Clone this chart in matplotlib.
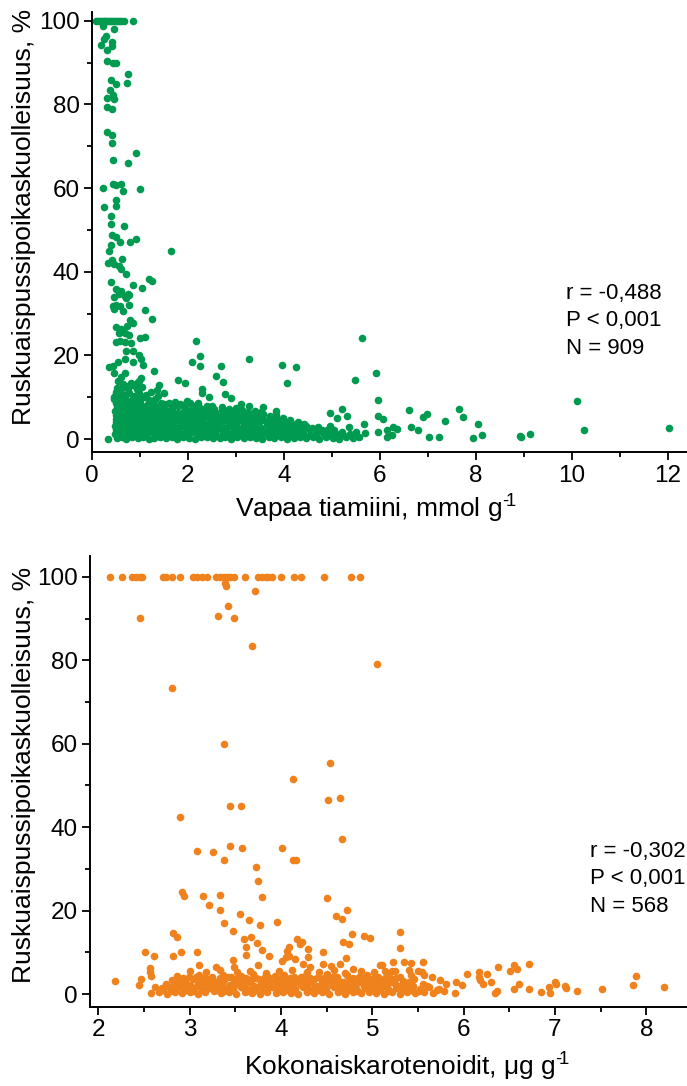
import matplotlib
matplotlib.use("Agg")
import matplotlib.pyplot as plt
from matplotlib.ticker import MultipleLocator

plt.rcParams['font.family'] = ['Liberation Sans', 'DejaVu Sans']
plt.rcParams['mathtext.fontset'] = 'custom'
plt.rcParams['mathtext.rm'] = 'Liberation Sans'
plt.rcParams['mathtext.default'] = 'regular'

GREEN = '#009B50'
ORANGE = '#F0821E'

# ---------------- Top panel: free thiamine vs. mortality ----------------
thiamine_row100_x = [0.08, 0.12, 0.16, 0.2, 0.24, 0.28, 0.32, 0.36, 0.4, 0.44,
                     0.48, 0.52, 0.56, 0.6, 0.67, 0.86]
thiamine_row100_y = [100] * len(thiamine_row100_x)

thiamine_high = [
    (0.22, 98.7), (0.46, 98.0), (0.29, 96.4), (0.26, 95.6), (0.41, 94.9), (0.41, 94.0),
    (0.18, 94.1), (0.31, 92.9), (0.32, 90.5), (0.44, 90.0), (0.5, 90.0), (0.75, 87.2),
    (0.72, 85.1), (0.4, 85.8), (0.49, 84.9), (0.375, 83.5), (0.44, 82.2), (0.32, 81.6),
    (0.46, 81.2), (0.32, 79.4), (0.41, 78.9), (0.32, 73.4), (0.41, 72.7), (0.41, 70.7),
    (0.92, 68.3), (0.44, 66.6), (0.75, 66.0), (0.22, 60.0), (0.43, 61.0), (0.51, 60.8),
    (0.61, 61.0), (0.64, 59.2), (1.0, 59.8), (0.5, 57.2), (0.24, 55.4), (0.5, 55.7),
    (0.39, 53.3), (0.4, 51.4), (0.67, 51.0), (0.42, 48.7), (0.49, 48.4), (0.58, 47.0),
    (0.79, 47.0), (0.92, 47.8), (0.4, 46.5), (0.36, 44.9), (1.64, 45.0), (0.33, 42.2),
    (0.42, 42.8), (0.46, 41.9), (0.57, 41.4), (0.63, 43.0), (0.6, 40.7), (0.71, 39.5),
    (0.4, 37.6), (1.18, 38.2), (1.24, 37.9), (0.85, 36.9), (1.04, 36.0), (0.5, 35.8),
    (0.61, 35.5), (0.57, 34.7), (0.46, 34.0), (0.68, 34.2), (0.74, 34.7), (0.78, 34.5),
    (0.71, 33.7), (0.43, 31.8), (0.51, 32.1), (0.46, 31.2), (0.58, 31.7), (0.64, 30.5),
    (0.78, 32.0), (1.11, 30.9), (1.24, 28.6), (0.79, 28.5), (0.85, 27.8), (0.51, 26.9),
    (0.61, 26.2), (0.72, 27.0), (0.56, 25.3), (0.68, 25.4), (0.78, 24.8), (1.01, 24.1),
    (1.11, 24.3), (0.49, 23.3), (0.58, 23.5), (0.68, 23.2), (0.82, 22.9), (2.17, 23.5),
    (0.71, 21.1), (0.86, 21.0), (0.97, 20.0), (1.03, 19.1), (2.26, 19.9), (0.54, 18.4),
    (0.69, 19.1), (0.86, 18.4), (1.07, 17.8), (2.08, 18.3), (2.26, 17.5), (0.36, 17.2),
    (0.43, 17.5), (0.46, 15.9), (1.29, 16.2), (0.68, 15.9), (0.6, 14.9), (0.54, 13.8),
    (0.65, 13.2), (2.58, 15.1), (1.03, 14.6), (0.98, 13.8), (0.93, 13.3), (0.81, 13.5),
    (0.86, 12.8), (1.04, 12.5), (1.79, 14.1), (1.93, 13.5), (1.39, 13.0), (1.35, 11.7),
    (1.51, 10.9), (0.49, 11.2), (0.61, 11.9), (0.74, 11.9), (0.94, 11.9), (2.29, 12.0),
    (2.29, 11.1), (2.43, 10.0), (2.68, 17.5), (2.72, 13.6), (2.77, 10.8), (2.89, 9.8),
    (5.62, 24.2), (3.28, 19.1), (3.95, 17.7), (4.25, 17.2), (4.06, 13.3), (5.91, 15.7),
    (5.49, 14.0),
]

thiamine_mid = [
    (0.46, 10.0), (0.56, 9.3), (0.68, 9.9), (0.82, 9.2), (0.93, 9.8), (1.0, 9.4),
    (1.08, 10.1), (1.18, 9.3), (1.24, 8.9), (1.31, 9.6), (1.43, 8.7), (1.61, 8.5),
    (1.74, 8.9), (1.83, 8.4), (1.97, 9.2), (2.04, 8.5), (2.21, 8.5), (2.35, 7.2),
    (3.1, 8.4), (3.28, 7.9), (3.57, 7.6), (3.83, 6.6), (3.53, 6.5),
    (0.48, 10.3), (0.55, 11.0), (0.66, 10.6), (0.77, 10.9), (0.88, 10.4), (0.98, 11.1),
    (1.12, 10.5), (1.22, 11.2), (0.52, 12.3), (0.7, 12.6), (0.95, 10.8), (1.38, 10.2),
    (0.45, 9.5), (0.59, 9.7), (0.72, 9.2), (0.85, 9.9),
]

thiamine_tail = [
    (5.97, 9.3), (4.97, 6.3), (5.2, 7.2), (5.1, 5.1), (5.32, 5.6), (6.61, 6.9),
    (6.89, 5.3), (6.98, 6.0), (7.64, 7.3), (7.73, 5.3), (5.96, 5.6), (6.06, 4.7),
    (5.67, 3.7), (7.36, 4.3), (6.64, 2.9), (6.8, 2.1), (7.03, 0.4), (7.24, 0.5),
    (6.28, 2.9), (6.35, 2.5), (8.04, 3.5), (8.12, 0.9), (7.94, 0.3), (5.97, 1.7),
    (6.14, 0.5), (6.25, 1.0), (6.14, 2.2), (5.57, 0.4), (5.68, 1.5), (4.72, 2.9),
    (4.89, 2.2), (5.36, 2.9), (5.51, 1.7), (10.1, 9.1), (10.26, 2.2), (12.03, 2.7),
    (8.93, 0.7), (9.13, 1.2), (8.94, 0.4), (0.33, 0.1),
]

thiamine_band = [
    # y ~ 0.3
    (0.52, 0.3), (0.63, 0.6), (0.71, 0.1), (0.84, 0.4), (0.95, 0.2), (1.06, 0.5), (1.19, 0.0),
    (1.3, 0.3), (1.41, 0.6), (1.55, 0.2), (1.66, 0.4), (1.78, 0.1), (1.9, 0.5), (2.03, 0.3),
    (2.15, 0.0), (2.27, 0.4), (2.4, 0.6), (2.52, 0.2), (2.66, 0.3), (2.78, 0.5), (2.9, 0.1),
    (3.03, 0.4), (3.17, 0.2), (3.3, 0.6), (3.42, 0.3), (3.55, 0.0), (3.68, 0.5), (3.8, 0.2),
    (3.93, 0.4), (4.07, 0.1), (4.2, 0.3), (4.33, 0.6), (4.47, 0.2), (4.6, 0.5), (4.74, 0.0),
    (4.88, 0.4), (5.02, 0.3), (5.15, 0.1), (5.3, 0.5), (5.44, 0.2),
    # y ~ 1.2
    (0.47, 1.3), (0.58, 1.0), (0.69, 1.5), (0.79, 1.1), (0.9, 1.4), (1.01, 0.9), (1.13, 1.3),
    (1.24, 1.6), (1.36, 1.0), (1.48, 1.2), (1.6, 1.5), (1.72, 0.9), (1.84, 1.3), (1.97, 1.1),
    (2.09, 1.6), (2.21, 1.0), (2.33, 1.4), (2.46, 1.2), (2.59, 0.9), (2.72, 1.5), (2.84, 1.1),
    (2.97, 1.3), (3.1, 1.0), (3.23, 1.6), (3.36, 1.2), (3.49, 0.9), (3.62, 1.4), (3.75, 1.1),
    (3.87, 1.5), (4.0, 1.0), (4.13, 1.3), (4.27, 1.1), (4.4, 1.5), (4.54, 0.9), (4.67, 1.2),
    (4.81, 1.4), (4.95, 1.0), (5.09, 1.3), (5.23, 0.9), (5.38, 1.2),
    # y ~ 2.1
    (0.5, 2.2), (0.61, 1.9), (0.73, 2.4), (0.86, 2.0), (0.97, 2.3), (1.09, 1.8), (1.21, 2.2),
    (1.33, 2.5), (1.45, 1.9), (1.58, 2.1), (1.7, 2.4), (1.82, 1.8), (1.95, 2.2), (2.07, 2.0),
    (2.19, 2.5), (2.31, 1.9), (2.44, 2.3), (2.57, 2.0), (2.69, 2.4), (2.82, 1.8), (2.95, 2.2),
    (3.08, 2.5), (3.2, 1.9), (3.33, 2.1), (3.46, 2.4), (3.59, 1.8), (3.72, 2.2), (3.85, 2.0),
    (3.98, 2.4), (4.11, 1.9), (4.24, 2.2), (4.38, 2.0), (4.52, 2.4), (4.66, 1.8), (4.8, 2.1),
    (5.05, 2.2), (5.2, 1.8),
    # y ~ 3.0
    (0.48, 3.1), (0.6, 2.8), (0.7, 3.3), (0.82, 2.9), (0.93, 3.2), (1.04, 2.7), (1.16, 3.1),
    (1.28, 3.4), (1.4, 2.8), (1.52, 3.0), (1.64, 3.3), (1.76, 2.7), (1.88, 3.1), (2.0, 2.9),
    (2.12, 3.4), (2.25, 2.8), (2.38, 3.2), (2.5, 2.9), (2.63, 3.3), (2.76, 2.7), (2.88, 3.1),
    (3.01, 3.4), (3.14, 2.8), (3.27, 3.0), (3.4, 3.3), (3.53, 2.7), (3.66, 3.1), (3.79, 2.9),
    (3.92, 3.3), (4.05, 2.8), (4.18, 3.1), (4.31, 2.9), (4.45, 3.2), (4.58, 2.7), (4.95, 3.0),
    # y ~ 3.9
    (0.51, 4.0), (0.62, 3.7), (0.74, 4.2), (0.87, 3.8), (0.99, 4.1), (1.11, 3.6), (1.23, 4.0),
    (1.35, 4.3), (1.47, 3.7), (1.6, 3.9), (1.73, 4.2), (1.85, 3.6), (1.98, 4.0), (2.1, 3.8),
    (2.23, 4.3), (2.35, 3.7), (2.48, 4.1), (2.61, 3.8), (2.74, 4.2), (2.86, 3.6), (2.99, 4.0),
    (3.12, 4.3), (3.25, 3.7), (3.38, 3.9), (3.51, 4.2), (3.64, 3.6), (3.77, 4.0), (3.9, 3.8),
    (4.03, 4.1), (4.16, 3.7), (4.3, 4.0), (4.42, 3.6),
    # y ~ 4.8
    (0.49, 4.9), (0.6, 4.6), (0.72, 5.1), (0.84, 4.7), (0.95, 5.0), (1.07, 4.5), (1.19, 4.9),
    (1.31, 5.2), (1.43, 4.6), (1.56, 4.8), (1.68, 5.1), (1.8, 4.5), (1.93, 4.9), (2.05, 4.7),
    (2.18, 5.2), (2.3, 4.6), (2.43, 5.0), (2.56, 4.7), (2.69, 5.1), (2.81, 4.5), (2.94, 4.9),
    (3.07, 5.2), (3.2, 4.6), (3.33, 4.8), (3.46, 5.1), (3.59, 4.5), (3.72, 4.9), (3.85, 4.7),
    (3.98, 5.0), (4.12, 4.6),
    # y ~ 5.7
    (0.5, 5.8), (0.63, 5.5), (0.75, 6.0), (0.88, 5.6), (1.0, 5.9), (1.12, 5.4), (1.25, 5.8),
    (1.37, 6.1), (1.5, 5.5), (1.62, 5.7), (1.75, 6.0), (1.87, 5.4), (2.0, 5.8), (2.12, 5.6),
    (2.25, 6.1), (2.38, 5.5), (2.51, 5.9), (2.64, 5.6), (2.77, 6.0), (2.9, 5.4), (3.03, 5.8),
    (3.16, 6.1), (3.3, 5.5), (3.43, 5.7), (3.57, 5.9), (3.7, 5.4), (3.84, 5.7),
    # y ~ 6.6
    (0.47, 6.7), (0.58, 6.4), (0.7, 6.9), (0.82, 6.5), (0.94, 6.8), (1.06, 6.3), (1.18, 6.7),
    (1.3, 7.0), (1.42, 6.4), (1.55, 6.6), (1.67, 6.9), (1.79, 6.3), (1.92, 6.7), (2.04, 6.5),
    (2.17, 7.0), (2.29, 6.4), (2.42, 6.8), (2.56, 6.5), (2.7, 6.9), (2.84, 6.3), (2.98, 6.7),
    (3.12, 7.0), (3.26, 6.4), (3.4, 6.6),
    # y ~ 7.5
    (0.52, 7.6), (0.64, 7.3), (0.77, 7.8), (0.9, 7.4), (1.02, 7.7), (1.15, 7.2), (1.27, 7.6),
    (1.4, 7.9), (1.53, 7.3), (1.66, 7.5), (1.8, 7.8), (1.95, 7.2), (2.1, 7.6), (2.26, 7.4),
    (2.4, 7.8), (2.55, 7.3), (2.7, 7.6), (2.86, 7.2), (3.0, 7.5),
    # y ~ 8.5
    (0.49, 8.6), (0.62, 8.3), (0.75, 8.8), (0.88, 8.4), (1.01, 8.7), (1.14, 8.2), (1.28, 8.6),
    (1.5, 8.4), (1.68, 8.0), (1.9, 8.1), (2.13, 7.9), (2.5, 8.0),
]

# ---------------- Bottom panel: total carotenoids vs. mortality ----------------
carot_row100_x = [2.13, 2.26, 2.37, 2.41, 2.46, 2.48, 2.71, 2.74, 2.8, 2.89, 3.04, 3.08,
                  3.13, 3.19, 3.29, 3.33, 3.37, 3.41, 3.44, 3.48, 3.6, 3.75, 3.79, 3.83,
                  3.86, 3.9, 4.0, 4.14, 4.22, 4.47, 4.77, 4.86]
carot_row100_y = [100] * len(carot_row100_x)

carot_high = [
    (3.39, 98.5), (3.4, 97.8), (3.71, 96.5), (3.42, 93.0), (2.45, 90.2), (3.31, 90.6),
    (3.48, 90.2), (3.68, 83.5), (5.05, 79.0), (2.8, 73.4), (3.38, 59.9), (4.54, 55.4),
    (4.13, 51.5), (3.44, 45.0), (3.56, 45.0), (4.51, 46.5), (4.65, 46.9), (2.89, 42.4),
    (4.67, 37.1), (3.08, 34.4), (3.25, 34.0), (3.44, 35.6), (3.57, 34.9), (3.37, 32.1),
    (4.01, 34.9), (4.13, 32.1), (4.16, 32.1), (3.72, 30.5), (3.75, 27.1), (3.79, 23.3),
    (4.5, 23.1), (2.91, 24.4), (2.94, 23.4), (3.15, 23.5), (3.33, 23.7), (3.21, 21.3),
    (3.33, 20.1), (4.6, 18.7), (4.67, 17.9), (4.72, 20.1), (3.37, 17.0), (3.55, 19.3),
    (3.65, 17.7), (3.77, 16.5), (3.95, 17.3), (3.47, 15.0), (2.82, 14.6), (2.86, 13.6),
    (3.59, 13.1), (3.67, 13.7), (3.74, 12.2), (3.62, 11.3), (3.62, 9.4), (3.79, 10.5),
    (3.87, 9.1), (4.17, 13.1), (4.23, 12.5), (4.21, 12.0), (4.09, 11.3), (4.07, 10.4),
    (4.3, 10.9), (4.29, 8.9), (4.78, 14.3), (4.91, 13.8), (4.97, 13.4), (4.68, 12.4),
    (4.74, 12.0), (4.46, 10.1), (4.71, 8.6), (2.51, 10.1), (2.61, 9.1), (2.82, 9.1),
    (2.9, 10.1), (3.08, 10.1), (5.3, 14.9), (5.3, 11.0),
]

carot_low = [
    (2.18, 3.1), (2.44, 2.1), (2.47, 3.7), (2.56, 6.2), (2.57, 4.3), (2.56, 5.3), (2.62, 1.6),
    (2.57, 0.2), (3.1, 7.0), (3.29, 6.5), (3.47, 8.1), (3.48, 6.4), (3.75, 7.0), (4.01, 8.0),
    (4.05, 8.9), (4.09, 9.1), (4.15, 8.5), (4.24, 7.2), (4.32, 6.4), (4.46, 7.2), (4.55, 6.7),
    (4.64, 7.2), (4.79, 6.1), (5.1, 6.9), (5.23, 7.6), (5.35, 7.7), (5.42, 7.5), (5.55, 7.8),
    (5.08, 7.0), (5.14, 5.6), (5.21, 5.6), (5.4, 5.8), (5.5, 5.6), (5.54, 5.3), (5.57, 4.6),
    (6.04, 4.9), (6.17, 5.3), (6.26, 4.8), (6.38, 6.4), (6.51, 5.6), (6.55, 7.0), (6.58, 6.1),
    (6.71, 7.1), (5.65, 4.1), (5.74, 3.4), (5.81, 2.4), (5.92, 3.0), (5.98, 2.1), (6.18, 3.4),
    (6.17, 4.1), (6.21, 2.4), (6.3, 3.0), (6.36, 0.8), (6.34, 0.2), (6.61, 2.4), (6.55, 1.1),
    (6.72, 1.1), (6.85, 0.5), (6.93, 1.6), (6.95, 0.3), (7.0, 3.0), (7.01, 2.4), (7.11, 1.9),
    (7.12, 1.4), (7.24, 0.8), (7.51, 1.1), (7.85, 2.2), (7.89, 4.3), (8.19, 1.7),
]

carot_band = [
    # y ~ 0.3
    (2.66, 0.4), (2.75, 0.1), (2.84, 0.6), (2.92, 0.2), (3.0, 0.5), (3.09, 0.0), (3.17, 0.4),
    (3.26, 0.7), (3.34, 0.2), (3.43, 0.5), (3.51, 0.1), (3.6, 0.6), (3.68, 0.3), (3.77, 0.0),
    (3.85, 0.5), (3.94, 0.2), (4.02, 0.6), (4.11, 0.3), (4.19, 0.0), (4.28, 0.5), (4.36, 0.2),
    (4.45, 0.6), (4.53, 0.1), (4.62, 0.4), (4.7, 0.0), (4.79, 0.5), (4.87, 0.2), (4.96, 0.6),
    (5.04, 0.3), (5.13, 0.0), (5.21, 0.4), (5.3, 0.1), (5.38, 0.5), (5.47, 0.2), (5.56, 0.6),
    (5.66, 0.3), (5.78, 0.7), (5.9, 0.2),
    # y ~ 0.9
    (2.71, 0.9), (2.8, 0.8), (2.96, 1.0), (3.04, 0.8), (3.13, 0.9), (3.3, 1.0), (3.38, 0.8),
    (3.47, 0.9), (3.64, 0.8), (3.72, 1.0), (3.81, 0.9), (3.98, 0.8), (4.06, 1.0), (4.15, 0.8),
    (4.32, 0.9), (4.4, 1.0), (4.49, 0.8), (4.66, 0.9), (4.74, 1.0), (4.83, 0.8), (5.0, 0.9),
    (5.08, 1.0), (5.17, 0.8), (5.34, 0.9), (5.42, 1.0), (5.51, 0.8), (5.71, 0.9),
    # y ~ 1.3
    (2.7, 1.4), (2.79, 1.1), (2.88, 1.6), (2.96, 1.2), (3.05, 1.5), (3.13, 1.0), (3.22, 1.4),
    (3.3, 1.7), (3.39, 1.1), (3.47, 1.3), (3.56, 1.6), (3.64, 1.0), (3.73, 1.4), (3.81, 1.2),
    (3.9, 1.7), (3.98, 1.1), (4.07, 1.5), (4.15, 1.2), (4.24, 1.6), (4.32, 1.0), (4.41, 1.4),
    (4.49, 1.2), (4.58, 1.7), (4.66, 1.1), (4.75, 1.5), (4.83, 1.0), (4.92, 1.4), (5.0, 1.2),
    (5.09, 1.6), (5.17, 1.1), (5.26, 1.5), (5.34, 1.0), (5.43, 1.4), (5.52, 1.2), (5.62, 1.6),
    (5.73, 1.2),
    # y ~ 1.9
    (2.75, 1.9), (2.92, 2.0), (3.01, 1.8), (3.09, 2.0), (3.26, 1.9), (3.35, 1.8), (3.43, 2.0),
    (3.6, 1.9), (3.69, 1.8), (3.77, 2.0), (3.94, 1.9), (4.03, 1.8), (4.11, 2.0), (4.28, 1.9),
    (4.37, 1.8), (4.45, 2.0), (4.62, 1.9), (4.71, 1.8), (4.79, 2.0), (4.96, 1.9), (5.05, 1.8),
    (5.13, 2.0), (5.3, 1.9), (5.39, 1.8), (5.6, 2.0),
    # y ~ 2.3
    (2.74, 2.4), (2.83, 2.1), (2.91, 2.6), (3.0, 2.2), (3.09, 2.5), (3.18, 2.0), (3.26, 2.4),
    (3.35, 2.7), (3.44, 2.1), (3.52, 2.3), (3.61, 2.6), (3.7, 2.0), (3.78, 2.4), (3.87, 2.2),
    (3.96, 2.7), (4.04, 2.1), (4.13, 2.5), (4.22, 2.2), (4.3, 2.6), (4.39, 2.0), (4.48, 2.4),
    (4.56, 2.2), (4.65, 2.7), (4.74, 2.1), (4.82, 2.5), (4.91, 2.0), (5.0, 2.4), (5.08, 2.2),
    (5.17, 2.6), (5.26, 2.1), (5.35, 2.5), (5.45, 2.0), (5.55, 2.4),
    # y ~ 2.9
    (2.86, 2.9), (2.95, 2.8), (3.14, 3.0), (3.22, 2.8), (3.31, 2.9), (3.48, 3.0), (3.56, 2.8),
    (3.65, 2.9), (3.82, 3.0), (3.9, 2.8), (3.99, 2.9), (4.16, 3.0), (4.24, 2.8), (4.33, 2.9),
    (4.5, 3.0), (4.58, 2.8), (4.69, 2.9), (4.86, 3.0), (4.94, 2.8), (5.04, 2.9), (5.22, 3.0),
    (5.4, 2.8),
    # y ~ 3.3
    (2.8, 3.4), (2.9, 3.1), (3.03, 3.6), (3.12, 3.2), (3.2, 3.5), (3.29, 3.0), (3.38, 3.4),
    (3.5, 3.7), (3.58, 3.1), (3.67, 3.3), (3.76, 3.6), (3.88, 3.0), (3.97, 3.4), (4.06, 3.2),
    (4.18, 3.7), (4.27, 3.1), (4.36, 3.5), (4.45, 3.2), (4.54, 3.6), (4.66, 3.0), (4.75, 3.4),
    (4.86, 3.2), (4.98, 3.6), (5.1, 3.1), (5.2, 3.5), (5.33, 3.2), (5.46, 3.6),
    # y ~ 3.9
    (2.93, 3.9), (3.07, 4.0), (3.16, 3.8), (3.33, 3.9), (3.42, 4.0), (3.62, 3.9), (3.72, 3.8),
    (3.86, 4.0), (4.0, 3.9), (4.1, 3.8), (4.22, 4.0), (4.32, 3.9), (4.47, 3.8), (4.57, 4.0),
    (4.79, 3.9), (4.9, 3.8), (5.03, 4.0), (5.14, 3.9), (5.26, 3.8),
    # y ~ 4.3
    (2.86, 4.4), (2.99, 4.1), (3.1, 4.6), (3.24, 4.2), (3.36, 4.5), (3.45, 4.0), (3.56, 4.4),
    (3.69, 4.7), (3.82, 4.1), (3.93, 4.3), (4.03, 4.6), (4.14, 4.0), (4.26, 4.4), (4.4, 4.2),
    (4.5, 4.7), (4.61, 4.1), (4.72, 4.5), (4.85, 4.2), (4.94, 4.6), (5.06, 4.0), (5.18, 4.4),
    (5.3, 4.1), (5.42, 4.5),
    # y ~ 5.4
    (3.0, 5.5), (3.18, 5.2), (3.33, 5.7), (3.52, 5.3), (3.66, 5.6), (3.84, 5.1), (3.98, 5.5),
    (4.12, 5.8), (4.28, 5.2), (4.42, 5.4), (4.58, 5.7), (4.7, 5.1), (4.88, 5.5), (5.02, 5.3),
    (5.25, 5.6),
]

top_stats = ['r = -0,488', 'P < 0,001', 'N = 909']
bottom_stats = ['r = -0,302', 'P < 0,001', 'N = 568']
ylabel_text = 'Ruskuaispussipoikaskuolleisuus, %'
top_xlabel = 'Vapaa tiamiini, mmol g$^{\u2010\\!1}$'
bottom_xlabel = 'Kokonaiskarotenoidit, \u03bcg g$^{\u2010\\!1}$'


def unzip(pairs):
    return [p[0] for p in pairs], [p[1] for p in pairs]


W, H = 687, 1086
fig = plt.figure(figsize=(W / 100, H / 100), dpi=100)

TICK_FS = 17.5
LABEL_FS = 19
STAT_FS = 16
MS = 30


def style_axes(ax):
    for s in ('top', 'right'):
        ax.spines[s].set_visible(False)
    for s in ('left', 'bottom'):
        ax.spines[s].set_linewidth(1.4)
        ax.spines[s].set_color('black')
    ax.tick_params(which='major', direction='out', length=6, width=1.3,
                   labelsize=TICK_FS, pad=3)
    ax.tick_params(which='minor', direction='out', length=3.5, width=1.3)


# ---- top axes ----
ax1 = fig.add_axes([92 / W, (H - 452) / H, (W - 92) / W, 440 / H])
for pairs in (thiamine_band, thiamine_mid, thiamine_high, thiamine_tail):
    xs, ys = unzip(pairs)
    ax1.scatter(xs, ys, s=MS, color=GREEN, linewidths=0, clip_on=False, zorder=3)
ax1.scatter(thiamine_row100_x, thiamine_row100_y, s=MS, color=GREEN, linewidths=0,
            clip_on=False, zorder=3)
ax1.set_xlim(0, 12.4)
ax1.set_ylim(-3.1, 102.1)
ax1.xaxis.set_major_locator(MultipleLocator(2))
ax1.xaxis.set_minor_locator(MultipleLocator(1))
ax1.yaxis.set_major_locator(MultipleLocator(20))
ax1.yaxis.set_minor_locator(MultipleLocator(10))
style_axes(ax1)
ax1.set_xlabel(top_xlabel, fontsize=LABEL_FS)
ax1.set_ylabel(ylabel_text, fontsize=LABEL_FS)
ax1.xaxis.set_label_coords(0.477, -0.092)
ax1.yaxis.set_label_coords(-0.094, 0.534)

# ---- bottom axes ----
ax2 = fig.add_axes([90 / W, (H - 1007) / H, (W - 90) / W, 451 / H])
for pairs in (carot_band, carot_low, carot_high):
    xs, ys = unzip(pairs)
    ax2.scatter(xs, ys, s=MS, color=ORANGE, linewidths=0, clip_on=False, zorder=3)
ax2.scatter(carot_row100_x, carot_row100_y, s=MS, color=ORANGE, linewidths=0,
            clip_on=False, zorder=3)
ax2.set_xlim(1.907, 8.446)
ax2.set_ylim(-3.1, 105.0)
ax2.xaxis.set_major_locator(MultipleLocator(1))
ax2.xaxis.set_minor_locator(MultipleLocator(0.5))
ax2.yaxis.set_major_locator(MultipleLocator(20))
ax2.yaxis.set_minor_locator(MultipleLocator(10))
style_axes(ax2)
ax2.set_xlabel(bottom_xlabel, fontsize=LABEL_FS)
ax2.set_ylabel(ylabel_text, fontsize=LABEL_FS)
ax2.xaxis.set_label_coords(0.531, -0.098)
ax2.yaxis.set_label_coords(-0.090, 0.514)

# ---- statistics text ----
for i, line in enumerate(top_stats):
    fig.text(566 / W, 1 - (293 + 27.5 * i) / H, line, fontsize=STAT_FS,
             ha='left', va='center')
for i, line in enumerate(bottom_stats):
    fig.text(590 / W, 1 - (851 + 27.5 * i) / H, line, fontsize=STAT_FS,
             ha='left', va='center')

fig.savefig('out.png', dpi=100)
